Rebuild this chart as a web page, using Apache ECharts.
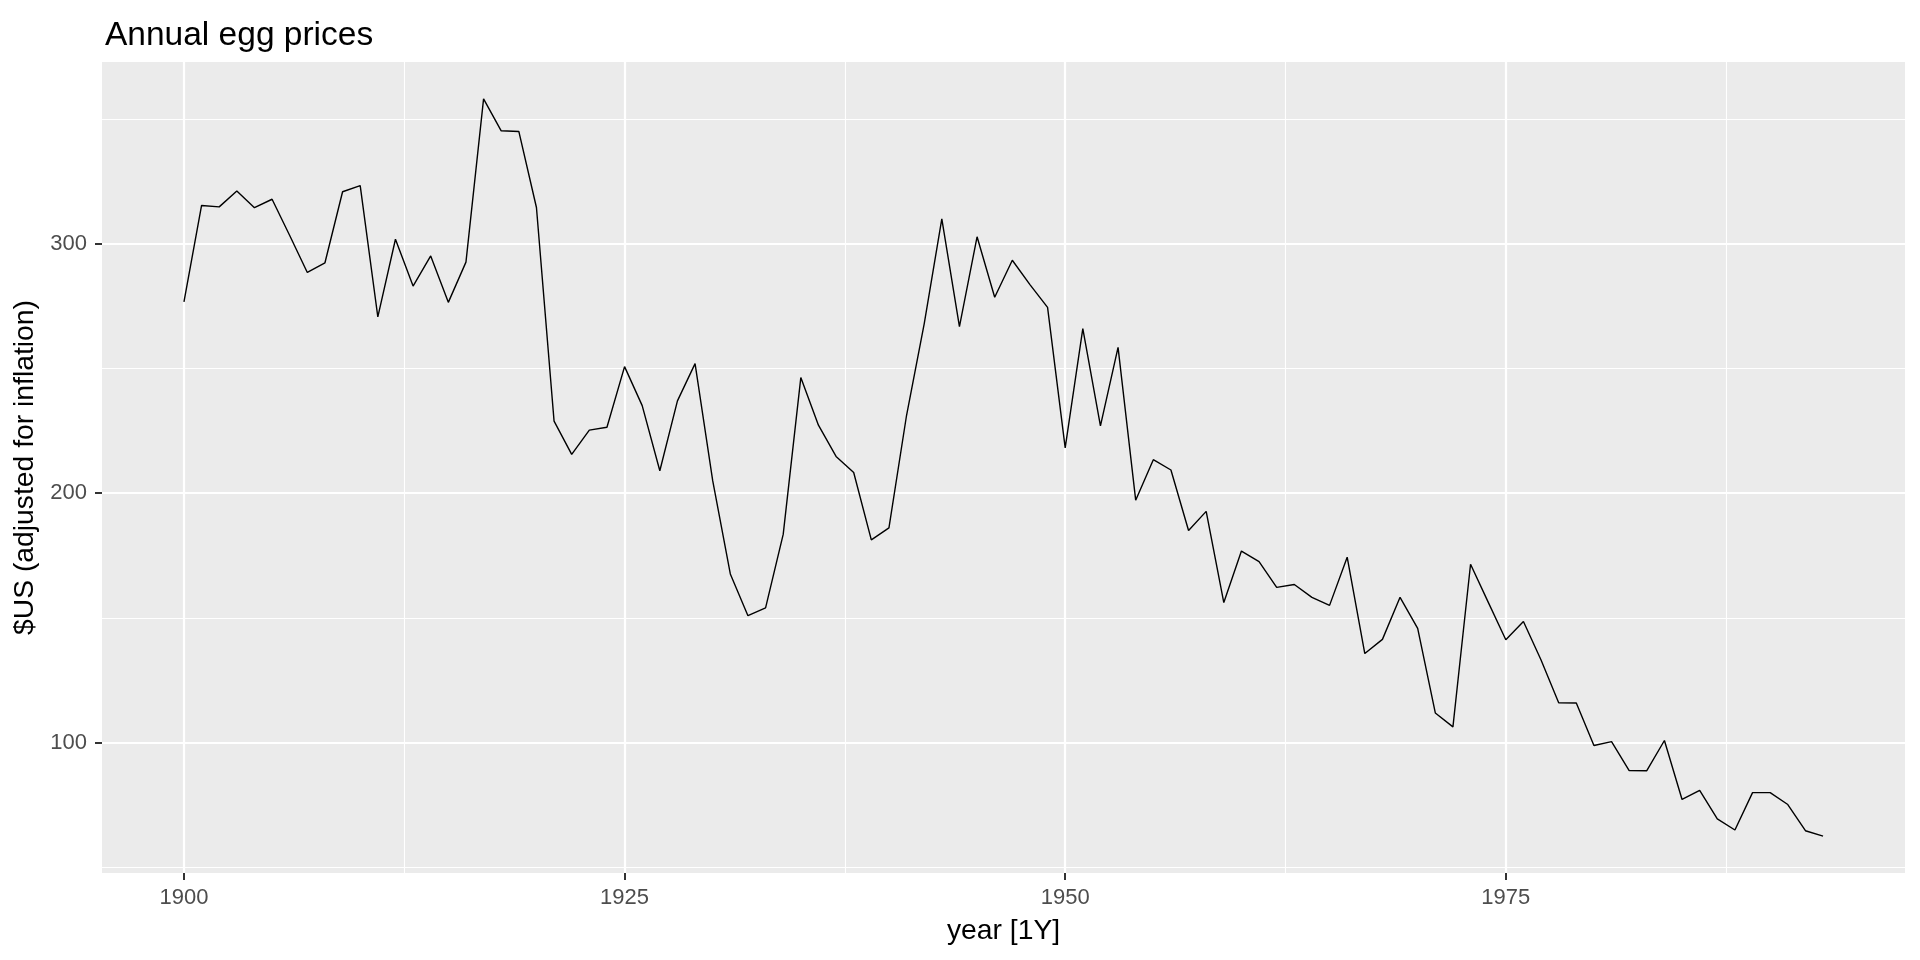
<!DOCTYPE html>
<html>
<head>
<meta charset="utf-8">
<script src="https://cdn.jsdelivr.net/npm/echarts@6/dist/echarts.min.js"></script>
<style>
html,body{margin:0;padding:0;background:#fff;}
#chart{width:1920px;height:960px;}
</style>
</head>
<body>
<div id="chart"></div>
<script>
const years = [];
for (let y = 1900; y <= 1993; y++) years.push(y);
const prices = [
  276.79, 315.42, 314.87, 321.25, 314.54, 317.92, 303.39, 288.56, 292.44, 320.92,
  323.39, 270.77, 301.88, 283.08, 295.20, 276.56, 292.69, 358.19, 345.38, 345.12,
  314.61, 228.92, 215.56, 225.32, 226.46, 250.78, 235.13, 209.02, 237.06, 251.99,
  205.01, 167.62, 150.86, 154.01, 183.46, 246.38, 227.31, 214.77, 208.30, 181.26,
  186.10, 231.27, 267.97, 310.05, 266.84, 302.86, 278.60, 293.44, 283.70, 274.56,
  218.19, 265.99, 227.05, 258.53, 197.21, 213.45, 209.32, 185.05, 192.71, 156.15,
  176.78, 172.52, 162.25, 163.36, 158.23, 155.01, 174.34, 135.69, 141.37, 158.24,
  145.78, 111.85, 106.27, 171.52, 156.32, 141.23, 148.52, 133.07, 115.91, 115.83,
  98.80, 100.36, 88.70, 88.69, 100.80, 77.14, 80.80, 69.39, 64.89, 79.90,
  79.90, 75.12, 64.61, 62.44
];
const xMajor = [1900, 1925, 1950, 1975];
const xMinor = [1912.5, 1937.5, 1962.5, 1987.5];
const yMajor = [100, 200, 300];
const yMinor = [50, 150, 250, 350];
const titleText = 'Annual egg prices';
const xTitle = 'year [1Y]';
const yTitle = '$US (adjusted for inflation)';

// ggplot-style 5% expansion
const xRange = years[years.length - 1] - years[0];
const xMin = years[0] - 0.05 * xRange, xMax = years[years.length - 1] + 0.05 * xRange;
const pMin = Math.min(...prices), pMax = Math.max(...prices);
const yMin = pMin - 0.05 * (pMax - pMin), yMax = pMax + 0.05 * (pMax - pMin);

const FONT = '"Liberation Sans", Arial, sans-serif';
const chart = echarts.init(document.getElementById('chart'), null, {renderer: 'canvas'});

function gridLines(vals, dim, width) {
  return vals.map(v => ({[dim]: v, lineStyle: {color: '#FFFFFF', width: width, type: 'solid'}}));
}

chart.setOption({
  animation: false,
  backgroundColor: '#FFFFFF',
  title: {
    text: titleText, left: 100, top: 14,
    textStyle: {fontFamily: FONT, fontSize: 33.5, fontWeight: 'normal', color: '#000000'}
  },
  grid: {
    left: 102, right: 15, top: 62, bottom: 87,
    show: true, backgroundColor: '#EBEBEB', borderWidth: 0
  },
  xAxis: {
    type: 'value', min: xMin, max: xMax,
    name: xTitle, nameLocation: 'middle', nameGap: 44,
    nameTextStyle: {fontFamily: FONT, fontSize: 28.3, color: '#000000'},
    axisLine: {show: false},
    axisTick: {show: true, customValues: xMajor, length: 7, lineStyle: {color: '#333333', width: 2}},
    axisLabel: {customValues: xMajor, margin: 14, fontFamily: FONT, fontSize: 22, color: '#4D4D4D',
      formatter: v => String(v)},
    splitLine: {show: false}
  },
  yAxis: {
    type: 'value', min: yMin, max: yMax,
    name: yTitle, nameLocation: 'middle', nameGap: 58, nameRotate: 90,
    nameTextStyle: {fontFamily: FONT, fontSize: 28.3, color: '#000000'},
    axisLine: {show: false},
    axisTick: {show: true, customValues: yMajor, length: 7, lineStyle: {color: '#333333', width: 2}},
    axisLabel: {customValues: yMajor, margin: 15, fontFamily: FONT, fontSize: 22, color: '#4D4D4D',
      formatter: v => String(v)},
    splitLine: {show: false}
  },
  series: [
    {
      type: 'line', data: [], z: 1, silent: true,
      markLine: {
        silent: true, symbol: 'none', label: {show: false}, animation: false,
        data: [].concat(
          gridLines(xMinor, 'xAxis', 1.1), gridLines(yMinor, 'yAxis', 1.1),
          gridLines(xMajor, 'xAxis', 2.2), gridLines(yMajor, 'yAxis', 2.2)
        )
      }
    },
    {
      type: 'line', z: 5,
      data: years.map((y, i) => [y, prices[i]]),
      showSymbol: false, symbol: 'none',
      lineStyle: {color: '#000000', width: 1.4},
      silent: true
    }
  ]
});
</script>
</body>
</html>
